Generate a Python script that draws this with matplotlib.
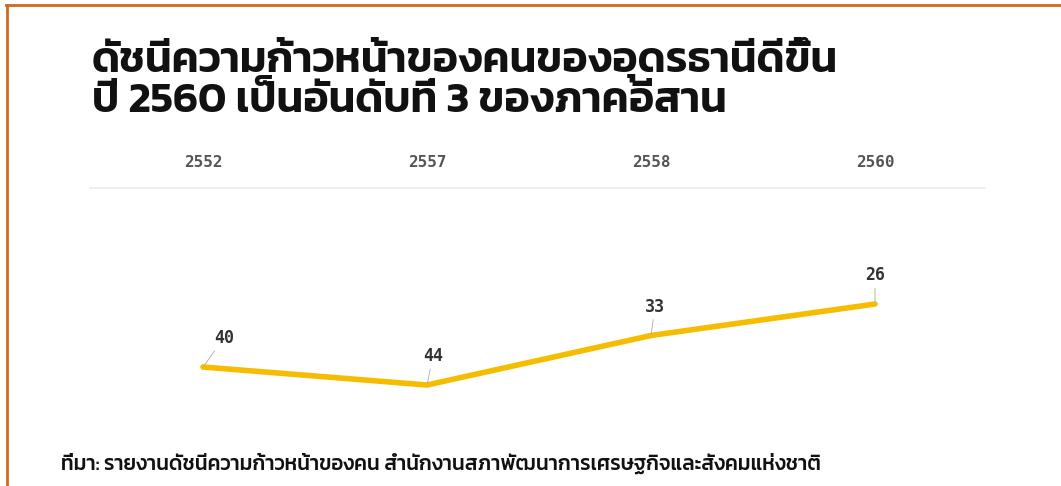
import matplotlib
matplotlib.use("Agg")
import matplotlib.pyplot as plt
from matplotlib.lines import Line2D

# data (rank among northeastern provinces; lower is better)
years = ["2552", "2557", "2558", "2560"]
ranks = [40, 44, 33, 26]

title_lines = ["ดัชนีความก้าวหน้าของคนของอุดรธานีดีขึ้น",
               "ปี 2560 เป็นอันดับที่ 3 ของภาคอีสาน"]
source = "ที่มา: รายงานดัชนีความก้าวหน้าของคน สำนักงานสภาพัฒนาการเศรษฐกิจและสังคมแห่งชาติ"

W, H = 1061, 486
THAI = ["Kanit", "DejaVu Sans"]
MONO = ["DejaVu Sans Mono"]
LINE_C = "#F5BC00"
BORDER_C = "#D2691E"

fig = plt.figure(figsize=(W / 100, H / 100), dpi=100)
fig.patch.set_facecolor("white")


def fx(px):
    return px / W


def fy(py):
    return 1 - py / H


def fit_text(t, width_px):
    r = fig.canvas.get_renderer()
    w = t.get_window_extent(r).width
    t.set_fontsize(t.get_fontsize() * width_px / w)


# title, scaled to the reference width
t1 = fig.text(fx(92), fy(72), title_lines[0], family=THAI, weight=600,
              fontsize=30, color="#111111", va="baseline")
fit_text(t1, 745)
t2 = fig.text(fx(92), fy(112), title_lines[1], family=THAI, weight=600,
              fontsize=t1.get_fontsize(), color="#111111", va="baseline")

# plot area: x 90..985 px, top rule at y=188
x0_px, x3_px = 203, 875
unit = (x3_px - x0_px) / 3
ax_left, ax_right, ax_top, ax_bot = 90, 985, 188, 430
ax = fig.add_axes([fx(ax_left), fy(ax_bot), fx(ax_right - ax_left), (ax_bot - ax_top) / H])
ax.set_xlim((ax_left - x0_px) / unit, (ax_right - x0_px) / unit)
# rank 40 at y=367 px, 4.5 px per rank step, inverted
k = 4.5
ax.set_ylim(40 + (ax_bot - 367) / k, 40 - (367 - ax_top) / k)

xs = list(range(len(years)))
ax.plot(xs, ranks, color=LINE_C, lw=4, solid_capstyle="round",
        solid_joinstyle="round", zorder=3)

ax.set_xticks(xs)
ax.set_xticklabels(years, family=MONO, weight="bold", fontsize=11.5, color="#555555")
ax.xaxis.tick_top()
ax.tick_params(axis="x", length=0, pad=13)
ax.set_yticks([])
for s in ["left", "right", "bottom"]:
    ax.spines[s].set_visible(False)
ax.spines["top"].set_color("#EBEBEB")
ax.spines["top"].set_linewidth(1.2)
ax.set_facecolor("none")

# data labels with thin leader lines (offsets in pixels)
lead_dx = [21, 6, 4, 0]
for x, r, dx in zip(xs, ranks, lead_dx):
    ax.annotate(str(r), xy=(x, r), xytext=(dx, 20), textcoords="offset pixels",
                ha="center", va="bottom", family=MONO, weight="bold",
                fontsize=12, color="#333333",
                arrowprops=dict(arrowstyle="-", color="#AAAAAA", lw=0.6,
                                shrinkA=1, shrinkB=1))

# source note
ts = fig.text(fx(61), fy(470), source, family=THAI, weight=500, fontsize=11,
              color="#111111", va="baseline")
fit_text(ts, 764)

# orange frame (top and left edges)
fig.add_artist(Line2D([fx(6), 1], [fy(5.5), fy(5.5)], color=BORDER_C, lw=2.0))
fig.add_artist(Line2D([fx(6.5), fx(6.5)], [0, fy(5.5)], color=BORDER_C, lw=2.0))

fig.savefig("out.png", dpi=100)
